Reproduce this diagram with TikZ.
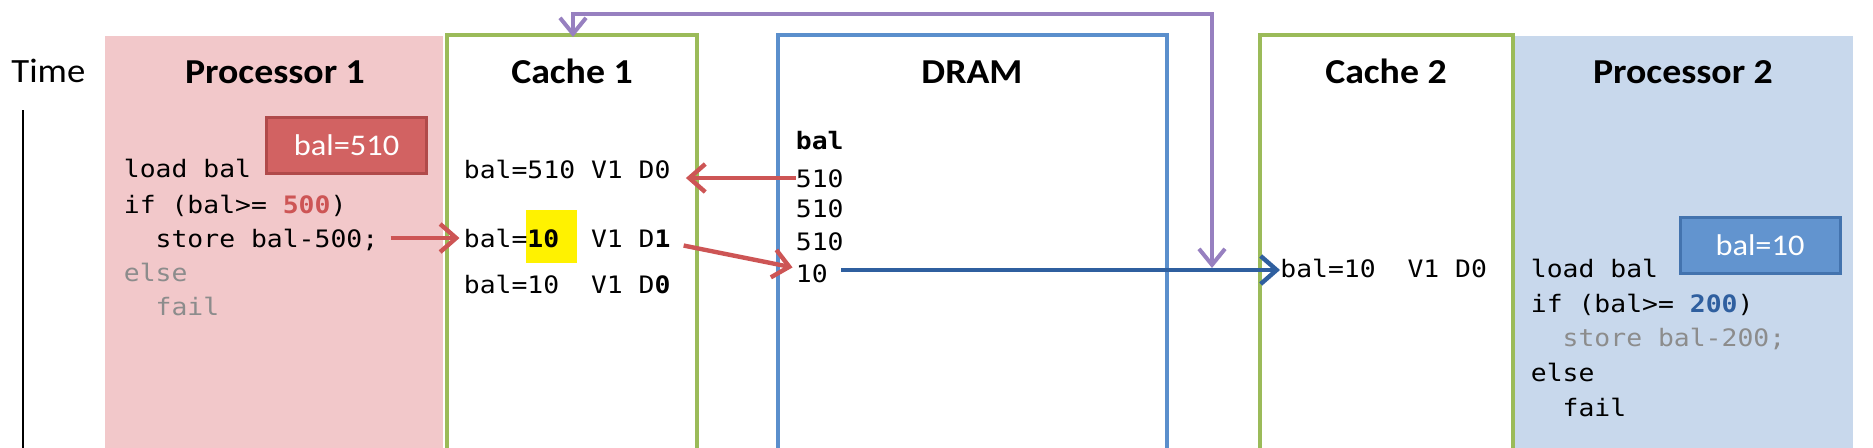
\documentclass[tikz,border=0pt]{standalone}
\usepackage{fontspec}
\setmainfont{Carlito}[FakeStretch=1.08]
\setmonofont{DejaVu Sans Mono}[FakeStretch=1.1]
\usepackage{tikz}
\usepackage{xcolor}
\usetikzlibrary{positioning,shapes,arrows.meta}

\definecolor{pinkfill}{HTML}{F2C8CA}
\definecolor{bluefill}{HTML}{C8D8EC}
\definecolor{cachegreen}{HTML}{9BBB59}
\definecolor{dramblue}{HTML}{5B8FCC}
\definecolor{snooppurple}{HTML}{9780C0}
\definecolor{wbred}{HTML}{CD5555}
\definecolor{busblue}{HTML}{2F5F9F}
\definecolor{codegray}{HTML}{8C8C8C}
\definecolor{regred}{HTML}{D26262}
\definecolor{regredline}{HTML}{B04A4A}
\definecolor{regblue}{HTML}{6294CF}
\definecolor{regblueline}{HTML}{4373AE}
\definecolor{hlyellow}{HTML}{FFF200}

\newcommand{\codesize}{\fontsize{12}{14}\selectfont}

\begin{document}
\begin{tikzpicture}[x=0.5pt,y=-0.5pt]
\useasboundingbox (0,0) rectangle (1873,447);
\clip (0,0) rectangle (1873,447);
\tikzstyle{title}=[font=\fontsize{17.5}{20}\selectfont\bfseries, anchor=base, inner sep=0pt]
\tikzstyle{code}=[font=\ttfamily\codesize, anchor=base west, inner sep=0pt, text height=9pt, text depth=0pt]
\tikzstyle{reg}=[font=\fontsize{15}{18}\selectfont, text=white, line width=1.5pt, minimum width=80pt, minimum height=28pt]
\tikzstyle{arr}=[line width=2.2pt, -{Straight Barb[length=8pt,width=14pt]}]

% panels
\fill[pinkfill] (105,36) rectangle (443,460);
\fill[bluefill] (1513,36) rectangle (1853,460);
\draw[cachegreen, line width=2.2pt] (447,35) rectangle (697,460);
\draw[dramblue, line width=2.2pt] (778,35) rectangle (1167,460);
\draw[cachegreen, line width=2.2pt] (1260,35) rectangle (1513,460);

% time axis
\node[font=\fontsize{17}{20}\selectfont, anchor=base west, inner sep=0pt] (time) at (11,82) {Time};
\coordinate (t0) at (23,110);
\coordinate (t1) at (23,460);
\draw[line width=1.3pt] (t0) -- (t1);

\node[title] (p1) at (275,83) {Processor 1};
\node[title] (c1) at (572,83) {Cache 1};
\node[title] (dram) at (972,83) {DRAM};
\node[title] (c2) at (1386,83) {Cache 2};
\node[title] (p2) at (1683,83) {Processor 2};

% processor 1
\node[code] (p1a) at (123.5,177) {load bal};
\node[code] (p1b) at (123.5,213) {if (bal>= \textcolor{wbred}{\textbf{500}})};
\node[code] (p1c) at (123.5,247) {\phantom{xx}store bal-500;};
\node[code, text=codegray] (p1d) at (123.5,281) {else};
\node[code, text=codegray] (p1e) at (123.5,315) {\phantom{xx}fail};
\node[reg, fill=regred, draw=regredline] (r1) at (346.5,145.5) {bal=510};

% cache 1
\fill[hlyellow] (526,210) rectangle (577,263);
\node[code] (c1a) at (463.5,178) {bal=510 V1 D0};
\node[code] (c1b) at (463.5,247) {bal=\textbf{10}\phantom{x} V1 D\textbf{1}};
\node[code] (c1c) at (463.5,293) {bal=10\phantom{x} V1 D\textbf{0}};

% dram
\node[code, font=\ttfamily\bfseries\codesize] (dbal) at (795.5,149) {bal};
\foreach \n/\y in {1/187,2/217,3/250}
  \node[code] (d\n) at (795.5,\y) {510};
\node[code] (d4) at (795.5,282) {10};

% cache 2 and processor 2
\node[code] (c2a) at (1280,277) {bal=10\phantom{x} V1 D0};
\node[code] (p2a) at (1530.5,277) {load bal};
\node[code] (p2b) at (1530.5,312) {if (bal>= \textcolor{busblue}{\textbf{200}})};
\node[code, text=codegray] (p2c) at (1530.5,346) {\phantom{xx}store bal-200;};
\node[code] (p2d) at (1530.5,381) {else};
\node[code] (p2e) at (1530.5,416) {\phantom{xx}fail};
\node[reg, fill=regblue, draw=regblueline] (r2) at (1760,245.5) {bal=10};

% transfers
\draw[arr, wbred, shorten >=7.5pt] (d1.west) -- (c1a.east |- d1.west);
\draw[arr, wbred, shorten <=6pt, shorten >=2pt] (p1c.east) -- (c1b.west |- p1c.east);
\draw[arr, wbred, shorten <=6.5pt, shorten >=1.5pt] ([yshift=-2.5pt]c1b.east) -- ([yshift=2.5pt]d4.west);
\coordinate (busl) at ([yshift=1.5pt]d4.east);
\draw[arr, busblue, shorten <=6.5pt] (busl) -- (c2a.west |- busl);

% snoop
\coordinate (c1top) at (573,37);
\coordinate (bus) at (1212,14);
\coordinate (snoop) at (1212,268);
\draw[snooppurple, line width=2pt, {Straight Barb[length=8pt,width=13pt]}-{Straight Barb[length=8pt,width=13pt]}] (c1top) |- (bus) -- (snoop);
\end{tikzpicture}
\end{document}
